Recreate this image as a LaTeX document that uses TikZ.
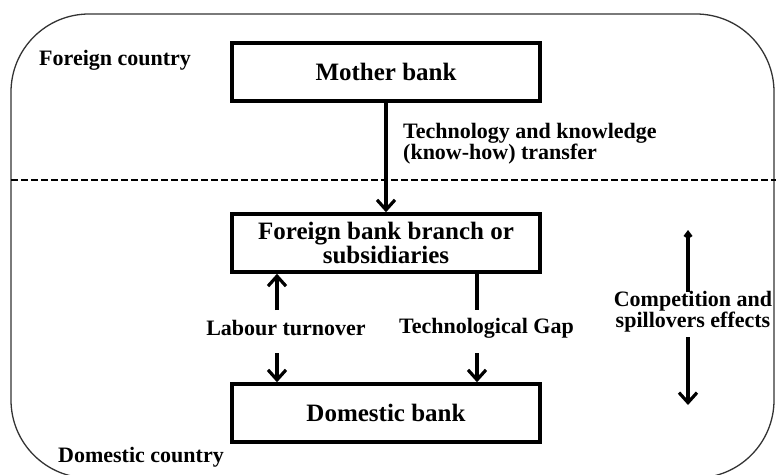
\documentclass[tikz,border=0pt]{standalone}
\usepackage{fontspec}
\setmainfont{Liberation Serif}
\usetikzlibrary{arrows.meta}

\def\boxwidth{308pt}

\begin{document}
\begin{tikzpicture}[x=1pt,y=-1pt,line join=miter,font=\bfseries]
    \tikzstyle{bank}=[draw,line width=3.5pt,minimum width=\boxwidth,minimum height=58pt,inner sep=0pt,align=center,font=\fontsize{25}{24}\selectfont\bfseries]
    \tikzstyle{annot}=[inner sep=0pt,font=\fontsize{22}{21}\selectfont\bfseries]
    \tikzstyle{link}=[line width=3.2pt,-{Straight Barb[length=10pt,width=18pt,line width=3.2pt]}]
    \tikzstyle{plain link}=[line width=3.2pt]

    \useasboundingbox (0,0) rectangle (776,474);

    % Draw the country frame and the border between the two countries
    \begin{scope}
        \clip (0,0) rectangle (776,474);
        \draw[line width=1.3pt,black!80,rounded corners=78pt] (11,14) rectangle (774,478);
    \end{scope}
    \coordinate (border-l) at (11,180);
    \coordinate (border-r) at (776,180);
    \draw[line width=2.7pt,dash pattern=on 7pt off 3pt] (border-l) -- (border-r);

    % Draw the banks
    \node[bank] (mother) at (386,72) {Mother bank};
    \node[bank] (foreign) at (386,243) {Foreign bank branch or\\subsidiaries};
    \node[bank] (domestic) at (386,413) {Domestic bank};

    % Annotate the countries
    \node[annot,anchor=west] (fc) at (39,60) {Foreign country};
    \node[annot,anchor=west] (dc) at (58,457) {Domestic country};

    % Transfer from the mother bank
    \draw[link] (mother) -- (foreign);
    \node[annot,anchor=west,align=left] (transfer) at (403,144) {Technology and knowledge\\(know-how) transfer};

    % Links between the foreign and the domestic bank
    \node[annot] (labour) at (286,328) {Labour turnover};
    \node[annot,anchor=west] (gap) at (399,328) {Technological Gap};
    \coordinate (lab-up) at (277,310);
    \coordinate (lab-down) at (277,353);
    \coordinate (gap-up) at (477,310);
    \coordinate (gap-down) at (477,353);
    \draw[link] (lab-up) -- (lab-up |- foreign.south);
    \draw[link] (lab-down) -- (lab-down |- domestic.north);
    \draw[plain link] (gap-up |- foreign.south) -- (gap-up);
    \draw[link] (gap-down) -- (gap-down |- domestic.north);

    % Competition between the banks
    \node[annot,align=center] (comp) at (693,312) {Competition and\\spillovers effects};
    \coordinate (comp-a) at (688,292);
    \coordinate (comp-top) at (688,230);
    \coordinate (comp-b) at (688,337);
    \coordinate (comp-bot) at (688,405);
    \draw[line width=3.2pt,-{Kite[length=9pt,width=9pt,inset=3pt]}] (comp-a) -- (comp-top);
    \draw[link] (comp-b) -- (comp-bot);
\end{tikzpicture}
\end{document}
